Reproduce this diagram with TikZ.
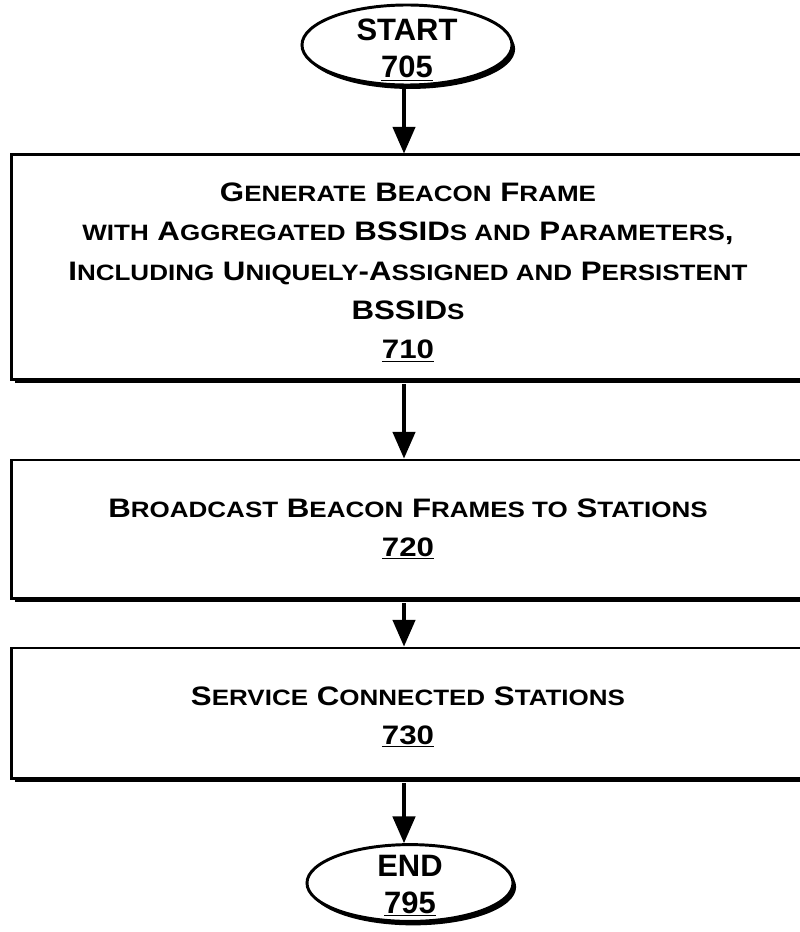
\documentclass[tikz,border=0pt]{standalone}
\usepackage{fontspec}
\setmainfont{Liberation Sans}
\newfontfamily\widefont[FakeStretch=1.17]{Liberation Sans}
\usepackage{tikz}
\usetikzlibrary{shapes.geometric,arrows.meta,shadows}

\newcommand\smc[1]{{\fontsize{15.8}{28}\selectfont #1}}
\newcommand\topstrut[1]{\rule{0pt}{#1}}

\tikzset{
  flowline/.style={line width=2.2pt},
  blackshadow/.style={drop shadow={shadow xshift=2.2pt, shadow yshift=-2.8pt, fill=black, opacity=1}},
  stepbox/.style={draw, line width=2.1pt, fill=white, blackshadow, minimum width=19.8cm, align=center,
    font=\widefont\bfseries\fontsize{19}{28}\selectfont},
  terminal/.style={ellipse, draw, line width=2.1pt, fill=white, blackshadow, inner sep=-8pt, align=center,
    font=\bfseries\fontsize{22}{26.5}\selectfont},
  flowarrow/.style={flowline, -{Triangle[length=19pt, width=16pt]}}
}

\begin{document}
\begin{tikzpicture}[x=0.025cm, y=-0.025cm]
  \useasboundingbox (0,0) rectangle (800,932);
  \node (start) [terminal, minimum width=5.25cm, minimum height=2.0cm] at (407,45) {\topstrut{22pt}START\\\underline{705}};
  \node (gen) [stepbox, minimum height=5.6cm] at (408,267) {\topstrut{21pt}G\smc{ENERATE} B\smc{EACON} F\smc{RAME}\\
    \smc{WITH} A\smc{GGREGATED} BSSID\smc{S AND} P\smc{ARAMETERS},\\
    I\smc{NCLUDING} U\smc{NIQUELY}-A\smc{SSIGNED AND} P\smc{ERSISTENT}\\
    BSSID\smc{S}\\
    \underline{710}};
  \node (bcast) [stepbox, minimum height=3.45cm] at (408,529) {B\smc{ROADCAST} B\smc{EACON} F\smc{RAMES TO} S\smc{TATIONS}\\
    \underline{720}};
  \node (serve) [stepbox, minimum height=3.25cm] at (408,713) {\topstrut{19pt}S\smc{ERVICE} C\smc{ONNECTED} S\smc{TATIONS}\\
    \underline{730}};
  \node (end) [terminal, minimum width=5.15cm, minimum height=1.92cm] at (410,883) {\topstrut{19pt}END\\\underline{795}};
  \draw[flowarrow] (start.south -| 404,0) -- (gen.north -| 404,0);
  \draw[flowarrow] ([yshift=-2.8pt]gen.south -| 404,0) -- (bcast.north -| 404,0);
  \draw[flowarrow] ([yshift=-2.8pt]bcast.south -| 404,0) -- (serve.north -| 404,0);
  \draw[flowarrow] ([yshift=-2.8pt]serve.south -| 404,0) -- (end.north -| 404,0);
\end{tikzpicture}
\end{document}
